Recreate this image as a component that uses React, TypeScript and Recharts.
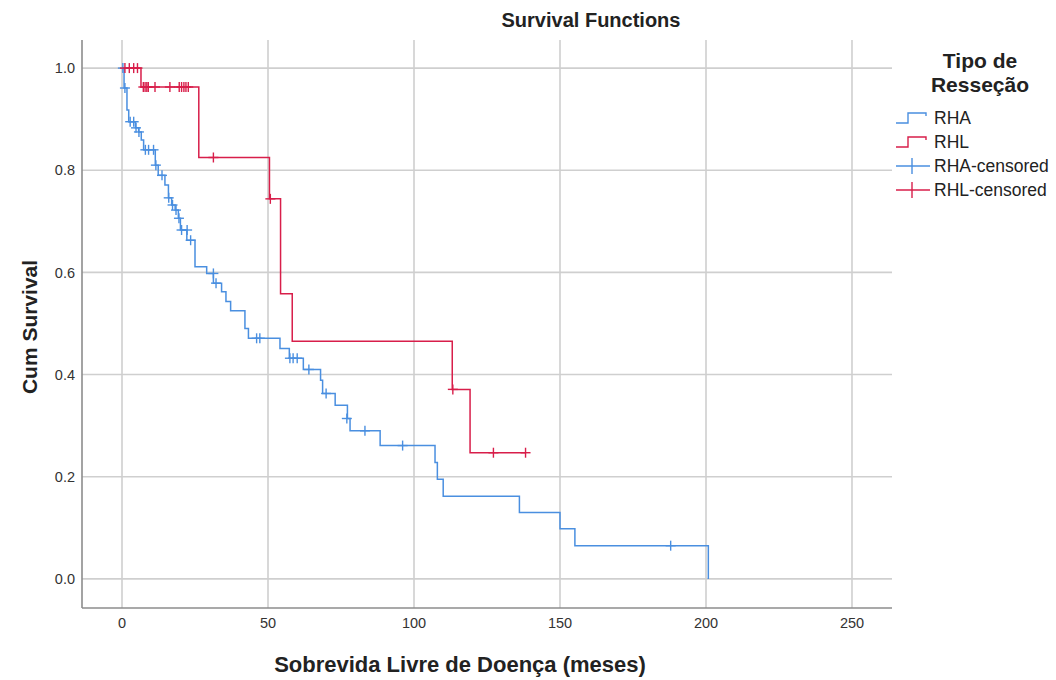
import { ComposedChart, Line, Scatter, XAxis, YAxis, CartesianGrid } from 'recharts'

// Curva de sobrevida (tempo em meses, sobrevida acumulada)
const rhaTimes = [0, 0.7, 1.7, 2.3, 4.6, 5.7, 6.6, 7.4, 11.4, 12.4, 14.7, 15.9, 17.0, 18.2, 19.3, 20.0, 22.2, 25.0, 29.0, 31.3, 34.1, 35.6, 37.2, 42.1, 43.3, 54.1, 57.3, 62.1, 68.0, 68.7, 73.0, 77.2, 78.1, 88.4, 107.2, 108.0, 110.0, 136.1, 150.0, 155.1, 200.8]
const rhaSurv = [1.0, 0.961, 0.918, 0.895, 0.883, 0.875, 0.859, 0.84, 0.81, 0.79, 0.771, 0.746, 0.732, 0.722, 0.706, 0.683, 0.663, 0.611, 0.598, 0.579, 0.562, 0.543, 0.525, 0.49, 0.471, 0.451, 0.432, 0.41, 0.389, 0.363, 0.34, 0.314, 0.29, 0.261, 0.228, 0.195, 0.162, 0.13, 0.098, 0.065, 0]

const rhlTimes = [0, 6.5, 26.3, 50.5, 54.3, 58.3, 113.1, 119.2, 138.2]
const rhlSurv = [1.0, 0.963, 0.825, 0.744, 0.558, 0.465, 0.371, 0.247, 0.247]

// Casos censurados
const rhaCensTimes = [0.3, 1.0, 2.8, 4.0, 4.8, 5.8, 8.0, 9.1, 10.8, 11.6, 13.7, 16.0, 17.3, 18.5, 19.5, 20.4, 22.3, 23.5, 31.3, 32.2, 46.1, 47.2, 57.5, 58.6, 60.0, 64.0, 69.9, 77.0, 83.2, 96.1, 187.9]
const rhaCensSurv = [1.0, 0.961, 0.895, 0.895, 0.883, 0.875, 0.84, 0.84, 0.84, 0.81, 0.79, 0.746, 0.732, 0.722, 0.706, 0.683, 0.683, 0.663, 0.598, 0.579, 0.471, 0.471, 0.432, 0.432, 0.432, 0.41, 0.363, 0.314, 0.29, 0.261, 0.065]

const rhlCensTimes = [1.0, 2.5, 4.0, 5.3, 7.3, 7.9, 8.5, 9.0, 11.3, 16.4, 19.6, 20.4, 21.2, 21.9, 22.7, 31.3, 50.8, 113.3, 127.2, 138.2]
const rhlCensSurv = [1.0, 1.0, 1.0, 1.0, 0.963, 0.963, 0.963, 0.963, 0.963, 0.963, 0.963, 0.963, 0.963, 0.963, 0.963, 0.825, 0.744, 0.371, 0.247, 0.247]

const xTicks = [0, 50, 100, 150, 200, 250]
const yTicks = [0, 0.2, 0.4, 0.6, 0.8, 1.0]
const xDomain = [-13.7, 263.7]
const yDomain = [-0.057, 1.055]

const legendLabels = ['RHA', 'RHL', 'RHA-censored', 'RHL-censored']

const BLUE = '#4a8fe0'
const RED = '#d81e4a'
const FONT = '"Liberation Sans", Arial, sans-serif'

const toPoints = (ts: number[], ss: number[]) => ts.map((t, i) => ({ t, s: ss[i] }))

const rha = toPoints(rhaTimes, rhaSurv)
const rhl = toPoints(rhlTimes, rhlSurv)
const rhaCens = toPoints(rhaCensTimes, rhaCensSurv)
const rhlCens = toPoints(rhlCensTimes, rhlCensSurv)

const cross = (color: string) => (props: any) => {
  const { cx, cy } = props
  return (
    <g stroke={color} strokeWidth={1.4}>
      <line x1={cx} y1={cy - 5} x2={cx} y2={cy + 5} />
      <line x1={cx - 5} y1={cy} x2={cx + 5} y2={cy} />
    </g>
  )
}

// só as linhas dos ticks, sem bordas no topo e à direita
const hLines = ({ offset }: any) =>
  yTicks.map((v) => offset.top + (offset.height * (yDomain[1] - v)) / (yDomain[1] - yDomain[0]))
const vLines = ({ offset }: any) =>
  xTicks.map((v) => offset.left + (offset.width * (v - xDomain[0])) / (xDomain[1] - xDomain[0]))

export default function App() {
  return (
    <div style={{ position: 'absolute', left: 0, top: 0, width: 1056, height: 680, background: '#fff' }}>
      <ComposedChart width={1056} height={680} margin={{ top: 40, right: 164, bottom: 0, left: 32 }}>
        <CartesianGrid
          stroke='#cfcfcf'
          strokeWidth={1.6}
          horizontalCoordinatesGenerator={hLines}
          verticalCoordinatesGenerator={vLines}
        />
        <XAxis
          type='number'
          dataKey='t'
          domain={xDomain}
          ticks={xTicks}
          allowDataOverflow
          height={72}
          tickLine={false}
          tickSize={0}
          tickMargin={10}
          stroke='#8c8c8c'
          strokeWidth={1.6}
          tick={{ fill: '#333', fontSize: 14.5, fontFamily: FONT }}
        />
        <YAxis
          type='number'
          domain={yDomain}
          ticks={yTicks}
          allowDataOverflow
          width={50}
          tickLine={false}
          tickSize={0}
          tickMargin={7}
          stroke='#8c8c8c'
          strokeWidth={1.6}
          tickFormatter={(v) => v.toFixed(1)}
          tick={{ fill: '#333', fontSize: 14.5, fontFamily: FONT }}
        />
        <Line data={rha} dataKey='s' type='stepAfter' stroke={BLUE} strokeWidth={1.5} dot={false} isAnimationActive={false} />
        <Line data={rhl} dataKey='s' type='stepAfter' stroke={RED} strokeWidth={1.5} dot={false} isAnimationActive={false} />
        <Scatter data={rhaCens} dataKey='s' shape={cross(BLUE)} isAnimationActive={false} />
        <Scatter data={rhlCens} dataKey='s' shape={cross(RED)} isAnimationActive={false} />
      </ComposedChart>
      <svg width={1056} height={680} style={{ position: 'absolute', left: 0, top: 0, pointerEvents: 'none' }} fontFamily={FONT}>
        <text x={591} y={27} textAnchor='middle' fontSize={20} fontWeight='bold' fill='#222'>Survival Functions</text>
        <text x={460} y={672} textAnchor='middle' fontSize={22} fontWeight='bold' fill='#222'>Sobrevida Livre de Doença (meses)</text>
        <text x={37} y={327} textAnchor='middle' fontSize={21} fontWeight='bold' fill='#222' transform='rotate(-90 37 327)'>Cum Survival</text>
        <text x={980} y={68} textAnchor='middle' fontSize={21} fontWeight='bold' fill='#222'>Tipo de</text>
        <text x={980} y={92} textAnchor='middle' fontSize={21} fontWeight='bold' fill='#222'>Resseção</text>
        {legendLabels.map((label, i) => {
          const y = 118 + i * 24
          const color = i % 2 === 0 ? BLUE : RED
          return (
            <g key={label}>
              {i < 2 ? (
                <polyline points={`${896},${y + 5} ${908},${y + 5} ${908},${y - 5} ${926},${y - 5} ${926},${y - 2}`} fill='none' stroke={color} strokeWidth={1.4} />
              ) : (
                <g stroke={color} strokeWidth={1.4}>
                  <line x1={896} y1={y} x2={930} y2={y} />
                  <line x1={912} y1={y - 8} x2={912} y2={y + 8} />
                </g>
              )}
              <text x={934} y={y + 6} fontSize={17.5} fill='#222'>{label}</text>
            </g>
          )
        })}
      </svg>
    </div>
  )
}
